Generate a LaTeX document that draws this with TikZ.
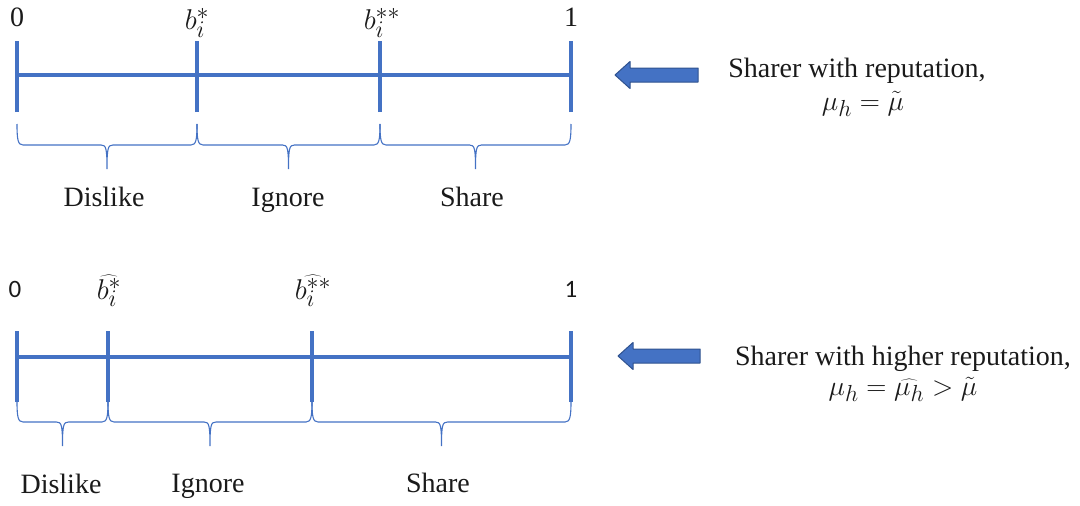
\documentclass[tikz,border=0pt]{standalone}
\usepackage{graphicx}
\usepackage{fontspec}
\setmainfont{Liberation Serif}
\newfontfamily\uisans{Carlito}
\definecolor{lineblue}{HTML}{4472C4}
\definecolor{arrowedge}{HTML}{2F528F}
\definecolor{inktext}{HTML}{1A1A1A}

% curly brace under an interval: left x, right x, top y of the end curls
\newcommand\rangebrace[3]{%
  \pgfmathsetmacro\bmid{(#1+#2)/2}%
  \pgfmathsetmacro\bline{#3+21}%
  \pgfmathsetmacro\btip{#3+45}%
  \draw[bracepath] (#1,#3) .. controls (#1,#3+16) and (#1+1,\bline) .. (#1+6,\bline)
    -- (\bmid-6,\bline) .. controls (\bmid-1,\bline) and (\bmid,\bline+3) .. (\bmid,\btip)
    .. controls (\bmid,\bline+3) and (\bmid+1,\bline) .. (\bmid+6,\bline)
    -- (#2-6,\bline) .. controls (#2-1,\bline) and (#2,#3+16) .. (#2,#3);
}

% left-pointing block arrow: tip x, centre y, tail x
\newcommand\leftpointer[3]{%
  \draw[pointer] (#1,#2) -- (#1+15,#2-13.5) -- (#1+15,#2-7) -- (#3,#2-7)
    -- (#3,#2+7) -- (#1+15,#2+7) -- (#1+15,#2+13.5) -- cycle;
}

% enlarged formulas: captions on the right and threshold labels
\newcommand\bigformula[1]{\scalebox{1.12}{$#1$}}
\newcommand\threshold[1]{\scalebox{1.15}{$#1$}}

\begin{document}
\begin{tikzpicture}[x=1pt,y=-1pt,
  axis/.style={draw=lineblue, line width=4.5pt},
  tickmark/.style={draw=lineblue, line width=4.5pt},
  bracepath/.style={draw=lineblue, line width=1.1pt},
  lbl/.style={font=\fontsize{28}{34}\selectfont, text=inktext, inner sep=0pt, anchor=base},
  sanslbl/.style={font=\uisans\fontsize{25}{30}\selectfont, text=inktext, inner sep=0pt, anchor=base},
  pointer/.style={fill=lineblue, draw=arrowedge, line width=1pt, line join=round}]
\useasboundingbox (0,0) rectangle (1080,506);

% ---------- upper scale ----------
\coordinate (a0) at (17,75);
\coordinate (a1) at (197,75);
\coordinate (a2) at (380,75);
\coordinate (a3) at (571,75);
\draw[axis] (a0) -- (a3);
\foreach \p in {a0,a1,a2,a3}
  \draw[tickmark] ([yshift=-37pt]\p) -- ([yshift=34pt]\p);

\node[lbl] (u0) at (17,27) {0};
\node[lbl] (u1) at (197,30) {\threshold{b_i^{*}}};
\node[lbl] (u2) at (382,30) {\threshold{b_i^{**}}};
\node[lbl] (u3) at (571,27) {1};

\rangebrace{17}{197}{124}
\rangebrace{197}{380}{124}
\rangebrace{380}{571}{124}

\node[lbl] (ud) at (104,206) {Dislike};
\node[lbl] (ui) at (288,206) {Ignore};
\node[lbl] (us) at (472,206) {Share};

\leftpointer{615}{75}{698}
\node[lbl] (ut1) at (857,77) {Sharer with reputation,};
\node[lbl] (ut2) at (863,110) {\bigformula{\mu_h=\tilde{\mu}}};

% ---------- lower scale ----------
\coordinate (b0) at (17,357);
\coordinate (b1) at (108,357);
\coordinate (b2) at (312,357);
\coordinate (b3) at (571,357);
\draw[axis] (b0) -- (b3);
\foreach \p in {b0,b1,b2,b3}
  \draw[tickmark] ([yshift=-45pt]\p) -- ([yshift=26pt]\p);

\node[sanslbl] (l0) at (15,297) {0};
\node[lbl] (l1) at (109,299) {\threshold{\widehat{b_i^{*}}}};
\node[lbl] (l2) at (313,299) {\threshold{\widehat{b_i^{**}}}};
\node[sanslbl] (l3) at (571,297) {1};

\rangebrace{17}{108}{401}
\rangebrace{108}{312}{401}
\rangebrace{312}{571}{401}

\node[lbl] (ld) at (61,493) {Dislike};
\node[lbl] (li) at (208,492) {Ignore};
\node[lbl] (ls) at (438,492) {Share};

\leftpointer{618}{356}{700}
\node[lbl] (lt1) at (903,365) {Sharer with higher reputation,};
\node[lbl] (lt2) at (903,395) {\bigformula{\mu_h=\widehat{\mu_h}>\tilde{\mu}}};
\end{tikzpicture}
\end{document}
